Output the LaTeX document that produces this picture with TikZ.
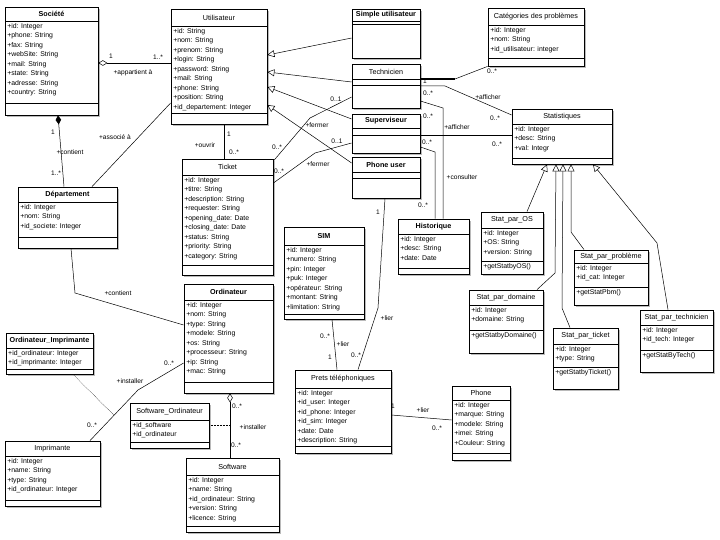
\documentclass[tikz,border=0pt]{standalone}
\usepackage{fontspec}
\setmainfont{Liberation Sans}
\usetikzlibrary{arrows.meta,fit,shadows}

\tikzset{classbox/.style={draw,line width=0.8pt,fill=white,inner sep=0pt,
    drop shadow={shadow xshift=1.6pt,shadow yshift=-1.6pt,fill=black!45,opacity=0.6}},
  sepline/.style={line width=0.8pt},
  ctitle/.style={font=\fontsize{7.2}{8}\selectfont,inner sep=0pt},
  cattr/.style={anchor=north west,align=left,inner sep=0pt,xshift=2pt,yshift=-2pt,
    font=\fontsize{6.9}{9.5}\selectfont},
  lbl/.style={font=\fontsize{6.6}{7}\selectfont,inner sep=0pt},
  gen/.style={-{Triangle[open,length=7pt,width=7pt]}},
  aggr/.style={{Diamond[open,length=9pt,width=5.5pt]}-},
  comp/.style={{Diamond[length=9pt,width=5.5pt]}-},
  aclass/.style={densely dotted}}

\newcommand{\umlclass}[9]{%
  \node[classbox,fit={(#2,#3) (#4,#5)}] (#1) {};
  \draw[sepline] (#2,#6) -- (#4,#6) (#2,#7) -- (#4,#7);
  \node[ctitle] (#1-t) at ({(#2+#4)/2},{(#3+#6)/2}) {#8};
  \node[cattr] (#1-a) at (#2,#6) {#9};}
\newcommand{\umlops}[4]{\node[cattr] (#1-o) at (#2,#3) {#4};}

\begin{document}
\begin{tikzpicture}[x=1pt,y=-1pt,line width=0.5pt]
  \fill[white] (0,0) rectangle (720,540); \useasboundingbox (0,0) rectangle (720,540);

  \umlclass{soc}{5}{7}{98}{115}{21}{103}{\textbf{Société}}{+id: Integer\\+phone: String\\+fax: String\\+webSite: String\\+mail: String\\+state: String\\+adresse: String\\+country: String}
  \umlclass{dep}{18}{187}{117}{248}{202}{237}{\textbf{Département}}{+id: Integer\\+nom: String\\+id\_societe: Integer}
  \umlclass{uti}{171}{9}{267}{124}{26}{113}{Utilisateur}{+id: String\\+nom: String\\+prenom: String\\+login: String\\+password: String\\+mail: String\\+phone: String\\+position: String\\+id\_departement: Integer}
  \umlclass{simp}{352}{9}{420}{58}{21}{24}{\textbf{Simple utilisateur}}{}
  \umlclass{tech}{352}{64}{420}{108}{79}{85}{Technicien}{}
  \umlclass{sup}{352}{114}{420}{153}{128}{135}{\textbf{Superviseur}}{}
  \umlclass{phu}{352}{157}{420}{198}{172}{178}{\textbf{Phone user}}{}
  \umlclass{cat}{488}{8}{584}{66}{25}{58}{Catégories des problèmes}{+id: Integer\\+nom: String\\+id\_utilisateur: integer}
  \umlclass{stat}{512}{109}{612}{164}{124}{158}{Statistiques}{+id: Integer\\+desc: String\\+val: Integr}
  \umlclass{tic}{182}{159}{273}{275}{175}{265}{Ticket}{+id: Integer\\+titre: String\\+description: String\\+requester: String\\+opening\_date: Date\\+closing\_date: Date\\+status: String\\+priority: String\\+category: String}
  \umlclass{sim}{284}{227}{364}{319}{245}{314}{\textbf{SIM}}{+id: Integer\\+numero: String\\+pin: Integer\\+puk: Integer\\+opérateur: String\\+montant: String\\+limitation: String}
  \umlclass{hist}{398}{219}{469}{274}{234}{268}{\textbf{Historique}}{+id: Integer\\+desc: String\\+date: Date}
  \umlclass{sos}{481}{212}{543}{274}{228}{261}{Stat\_par\_OS}{+id: Integer\\+OS: String\\+version: String}
  \umlclass{spb}{574}{250}{648}{305}{263}{287}{Stat\_par\_problème}{+id: Integer\\+id\_cat: Integer}
  \umlclass{sdom}{469}{290}{543}{353}{305}{330}{Stat\_par\_domaine}{+id: Integer\\+domaine: String}
  \umlclass{stic}{553}{328}{618}{389}{344}{367}{Stat\_par\_ticket}{+id: Integer\\+type: String}
  \umlclass{stech}{640}{310}{713}{372}{325}{350}{Stat\_par\_technicien}{+id: Integer\\+id\_tech: Integer}
  \umlops{sos}{481}{261}{+getStatbyOS()} \umlops{spb}{574}{287}{+getStatPbm()}
  \umlops{sdom}{469}{330}{+getStatbyDomaine()} \umlops{stic}{553}{367}{+getStatbyTicket()}
  \umlops{stech}{640}{350}{+getStatByTech()}
  \umlclass{ord}{184}{284}{273}{393}{300}{382}{\textbf{Ordinateur}}{+id: Integer\\+nom: String\\+type: String\\+modele: String\\+os: String\\+processeur: String\\+ip: String\\+mac: String}
  \umlclass{oimp}{6}{333}{93}{374}{348}{369}{\textbf{Ordinateur\_Imprimante}}{+id\_ordinateur: Integer\\+id\_imprimante: Integer}
  \umlclass{imp}{5}{441}{100}{506}{456}{500}{Imprimante}{+id: Integer\\+name: String\\+type: String\\+id\_ordinateur: Integer}
  \umlclass{sord}{130}{403}{209}{448}{420}{442}{Software\_Ordinateur}{+id\_software\\+id\_ordinateur}
  \umlclass{soft}{186}{458}{279}{532}{475}{526}{Software}{+id: Integer\\+name: String\\+id\_ordinateur: String\\+version: String\\+licence: String}
  \umlclass{pret}{295}{370}{391}{453}{388}{446}{Prets téléphoniques}{+id: Integer\\+id\_user: Integer\\+id\_phone: Integer\\+id\_sim: Integer\\+date: Date\\+description: String}
  \umlclass{pho}{452}{386}{510}{460}{400}{453}{Phone}{+id: Integer\\+marque: String\\+modele: String\\+imei: String\\+Couleur: String}

  \draw[aggr] (soc.east |- 0,63) -- (uti.west |- 0,63);
  \draw[comp] (soc.south -| 58,0) -- (dep.north -| 64,0);
  \draw (dep.north -| 92,0) -- (uti.west |- 0,103);
  \draw (dep.south -| 71,0) -- (75,293) -- (ord.west |- 0,325);
  \draw[gen] (simp.west |- 0,38) -- (uti.east |- 0,55);
  \draw[gen] (tech.west |- 0,82) -- (uti.east |- 0,72);
  \draw[gen] (sup.west |- 0,119) -- (uti.east |- 0,87);
  \draw[gen] (phu.west |- 0,163) -- (uti.east |- 0,105);
  \draw (uti.south -| 224,0) -- (tic.north -| 224,0);
  \draw (tech.west |- 0,97) -- (310,118) -- (tic.east |- 0,161);
  \draw (sup.west |- 0,143) -- (315,153) -- (tic.east |- 0,183);
  \draw[line width=1.1pt] (tech.east |- 0,79) -- coordinate[pos=1] (tc) (455,79); \draw (tc) -- (cat.south west);
  \draw (tech.east |- 0,86) -- (445,86) -- (stat.west |- 0,115);
  \draw (sup.east |- 0,135) -- (stat.west |- 0,135);
  \draw (tech.east |- 0,101) -- (443,108) -- (hist.north -| 443,0);
  \draw (sup.east |- 0,147) -- (435,152) -- (hist.north -| 435,0);
  \draw (phu.south -| 385,0) -- (378,308) -- (pret.north -| 358,0);
  \draw (sim.south -| 332,0) -- (pret.north -| 337,0);
  \draw (pret.east |- 0,415) -- (pho.west |- 0,420);
  \draw[aggr] (ord.south -| 230,0) -- coordinate (so) (soft.north -| 230,0);
  \draw[aclass] (sord.east |- so) -- (so);
  \draw (imp.north -| 90,0) -- coordinate (oi) (138,390) -- (ord.west |- 0,363);
  \draw[aclass] (oimp.south -| 73,0) -- (oi);
  \draw[gen] (sos.north -| 527,0) -- (stat.south -| 547,0);
  \draw[gen] (sdom.north -| 537,0) -- (555,273) -- (stat.south -| 556,0);
  \draw[gen] (stic.north -| 570,0) -- (562,308) -- (stat.south -| 563,0);
  \draw[gen] (spb.north -| 584,0) -- (571,232) -- (stat.south -| 571,0);
  \draw[gen] (stech.north -| 668,0) -- (657,243) -- (stat.south -| 593,0);

  \foreach \x/\y/\txt [count=\i] in {111/56/1, 158/57/1..*, 133/73/+appartient à, 53/132/1,
    70/152/+contient, 56/173/1..*, 115/137/+associé à, 118/293/+contient, 229/134/1,
    205/145/+ouvrir, 234/152/0..*, 336/99/0..1, 317/125/+fermer, 277/147/0..*,
    337/141/0..1, 318/164/+fermer, 279/171/0..*, 425/81/1, 492/71/0..*, 428/93/0..*,
    488/97/+afficher, 495/118/0..*, 428/116/0..*, 427/142/0..*, 457/127/+afficher,
    497/144/0..*, 462/177/+consulter, 423/205/0..*, 378/212/1, 387/318/+lier,
    356/355/0..*, 325/336/0..*, 343/344/+lier, 330/357/1, 393/406/1, 423/410/+lier,
    437/428/0..*, 237/406/0..*, 253/427/+installer, 236/445/0..*, 169/363/0..*,
    130/381/+installer, 92/425/0..*}
    \node[lbl] (lab\i) at (\x,\y) {\txt};
\end{tikzpicture}
\end{document}
